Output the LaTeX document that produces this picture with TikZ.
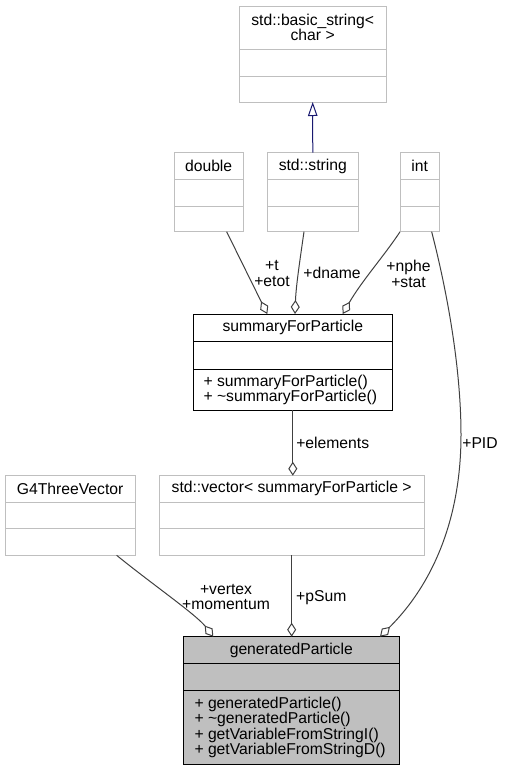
\documentclass[tikz,border=0pt]{standalone}
\usepackage{fontspec}
\setmainfont{Liberation Sans}
\usetikzlibrary{arrows.meta,calc}

\definecolor{boxgray}{HTML}{BFBFBF}
\definecolor{edgegray}{HTML}{404040}
\definecolor{inhblue}{HTML}{191970}
\newcommand\umlfont{\fontsize{15.7}{15.3}\selectfont}

\tikzset{
	cls/.style={draw=boxgray, fill=white, line width=1pt, inner sep=0pt, outer sep=0pt},
	mainclass/.style={draw=black, fill=white, line width=1pt, inner sep=0pt, outer sep=0pt},
	selfclass/.style={draw=black, fill=boxgray, line width=1pt, inner sep=0pt, outer sep=0pt},
	ctitle/.style={inner sep=0pt, align=center, font=\umlfont},
	cmethods/.style={inner sep=0pt, align=left, anchor=west, font=\umlfont},
	elabel/.style={inner sep=0pt, align=center, font=\umlfont},
	uses/.style={draw=edgegray, line width=1pt, -{Diamond[open, length=14pt, width=9pt]}},
	isa/.style={draw=inhblue, line width=1pt, -{Triangle[open, length=14pt, width=9.5pt]}}
}
% name, style, top left, width, heights of the three compartments
\newcommand\classbox[7]{%
	\node[#2, anchor=north west, minimum width=#4pt, minimum height=#5pt+#6pt+#7pt] (#1) at (#3) {};
	\draw[#2, fill=none] ([yshift=-#5pt]#1.north west) -- ([yshift=-#5pt]#1.north east);
	\draw[#2, fill=none] ([yshift=-#5pt-#6pt]#1.north west) -- ([yshift=-#5pt-#6pt]#1.north east);
}

\begin{document}
\begin{tikzpicture}[x=1pt, y=-1pt]
	%%%%% START %%%%%
	\useasboundingbox (0,0) rectangle (505,771);
	
	\classbox{basic}{cls}{239.3,6}{146.7}{43.3}{26.7}{26}
	\node[ctitle] (basicT) at ([yshift=-21.7pt]basic.north) {std::basic\_string<\\char >};
	
	\classbox{double}{cls}{174,152.7}{69.3}{26.6}{26.7}{25.7}
	\node[ctitle] (doubleT) at ([yshift=-13.3pt]double.north) {double};
	
	\classbox{string}{cls}{267.3,152.7}{91}{26.6}{26.7}{25.7}
	\node[ctitle] (stringT) at ([yshift=-13.3pt]string.north) {std::string};
	
	\classbox{int}{cls}{400,152.7}{39.3}{26.6}{26.7}{25.7}
	\node[ctitle] (intT) at ([yshift=-13.3pt]int.north) {int};
	
	\classbox{summary}{mainclass}{193.3,314}{199}{27.7}{27.6}{40.7}
	\node[ctitle] (summaryT) at ([yshift=-13.8pt]summary.north) {summaryForParticle};
	\node[cmethods] (summaryM) at ([xshift=10pt, yshift=-75.6pt]summary.north west)
		{+ summaryForParticle()\\+ \textasciitilde summaryForParticle()};
	
	\classbox{G4}{cls}{5,475.7}{130.3}{26.3}{26.7}{26.6}
	\node[ctitle] (G4T) at ([yshift=-13.2pt]G4.north) {G4ThreeVector};
	
	\classbox{vector}{cls}{159,475.7}{265.3}{26.3}{26.7}{26.6}
	\node[ctitle] (vectorT) at ([yshift=-13.2pt]vector.north) {std::vector< summaryForParticle >};
	
	\classbox{generated}{selfclass}{183.3,636.7}{216}{26.6}{27.4}{73.3}
	\node[ctitle] (generatedT) at ([yshift=-13.3pt]generated.north) {generatedParticle};
	\node[cmethods] (generatedM) at ([xshift=11pt, yshift=-90.6pt]generated.north west)
		{+ generatedParticle()\\+ \textasciitilde generatedParticle()\\+ getVariableFromStringI()\\+ getVariableFromStringD()};
	
	% inheritance
	\draw[isa] (string) -- (basic);
	
	% members of summaryForParticle
	\draw[uses] ([xshift=18pt]double.south) -- ([xshift=-25.5pt]summary.north);
	\coordinate (dnameS) at ([xshift=-8.8pt]string.south);
	\coordinate (dnameE) at ([xshift=2.2pt]summary.north);
	\draw[uses] (dnameS) .. controls ($(dnameS)+(-4,28)$) and ($(dnameE)+(1,-28)$) .. (dnameE);
	\coordinate (npheS) at ([xshift=-19.6pt]int.south);
	\coordinate (npheE) at ([xshift=49.9pt]summary.north);
	\draw[uses] (npheS) .. controls ($(npheS)+(-15,23)$) and ($(npheE)+(19,-33)$) .. (npheE);
	
	\node[elabel] (tLbl) at (272,273.5) {+t\\+etot};
	\node[elabel] (dnameLbl) at (332,273.3) {+dname};
	\node[elabel] (npheLbl) at (408.5,274) {+nphe\\+stat};
	
	% members of generatedParticle
	\draw[uses] (summary.south) -- (summary.south |- vector.north);
	\node[elabel] (elemLbl) at (332.7,442.7) {+elements};
	
	\coordinate (pidS) at ([xshift=12pt]int.south);
	\coordinate (pidM) at (461,435);
	\coordinate (pidE) at ([xshift=88.7pt]generated.north);
	\draw[uses] (pidS) .. controls (448,295) and (461,370) .. (pidM)
		.. controls (461,520) and (432,585) .. (pidE);
	\node[elabel] (pidLbl) at (480,442.7) {+PID};
	
	\coordinate (vertexS) at ([xshift=46.5pt]G4.south);
	\coordinate (vertexE) at ([xshift=-78pt]generated.north);
	\draw[uses] (vertexS) .. controls ($(vertexS)+(33,27)$) and ($(vertexE)+(-17,-22)$) .. (vertexE);
	\node[elabel] (vertexLbl) at (226,597) {+vertex\\+momentum};
	
	\draw[uses] (vector.south) -- (vector.south |- generated.north);
	\node[elabel] (psumLbl) at (321.3,597.3) {+pSum};
	%%%%% END %%%%%
\end{tikzpicture}
\end{document}
